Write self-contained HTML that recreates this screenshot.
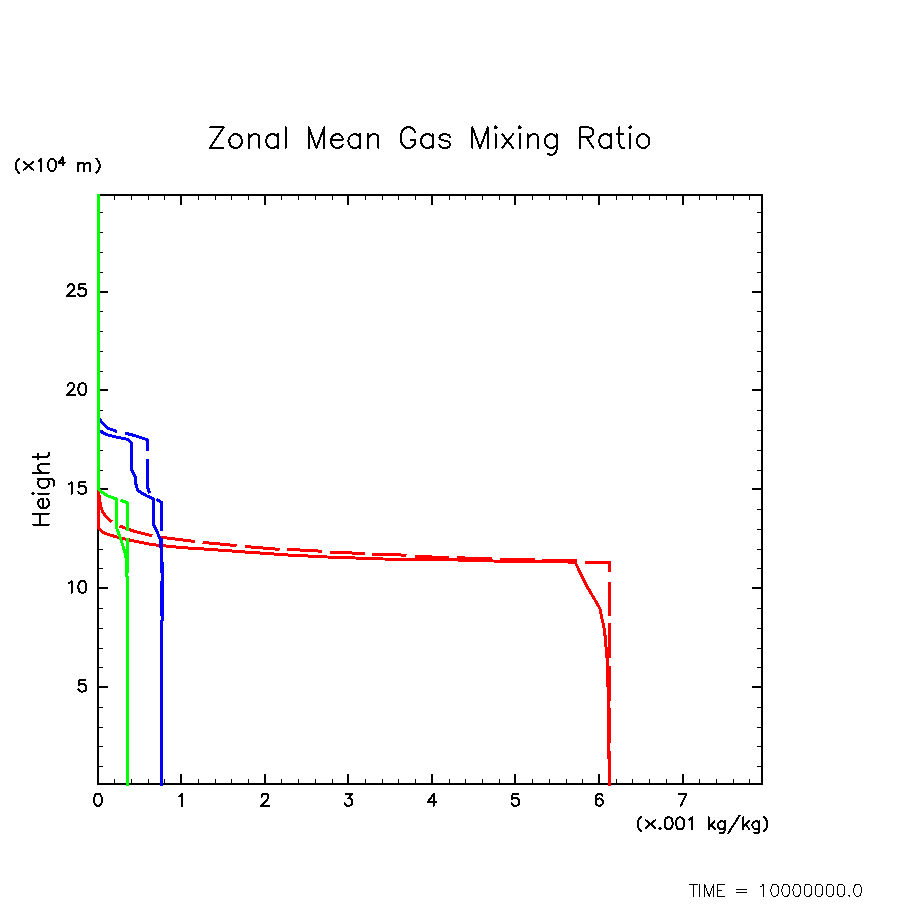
<!DOCTYPE html>
<html><head><meta charset="utf-8"><title>Zonal Mean Gas Mixing Ratio</title>
<style>html,body{margin:0;padding:0;background:#fff;font-family:"Liberation Sans",sans-serif;}svg{display:block;}</style>
</head><body>
<svg width="904" height="904" viewBox="0 0 904 904">
<rect width="904" height="904" fill="#fff"/>
<path d="M223.56 127.43 L210.00 147.90 M210.00 127.43 L223.56 127.43 M210.00 147.90 L223.56 147.90 M234.20 134.25 L232.27 135.22 L230.33 137.18 L229.36 140.10 L229.36 142.05 L230.33 144.97 L232.27 146.93 L234.20 147.90 L237.11 147.90 L239.04 146.93 L240.98 144.97 L241.95 142.05 L241.95 140.10 L240.98 137.18 L239.04 135.22 L237.11 134.25 L234.20 134.25 M248.72 134.25 L248.72 147.90 M248.72 138.15 L251.63 135.22 L253.56 134.25 L256.47 134.25 L258.40 135.22 L259.37 138.15 L259.37 147.90 M277.76 134.25 L277.76 147.90 M277.76 137.18 L275.83 135.22 L273.89 134.25 L270.99 134.25 L269.05 135.22 L267.12 137.18 L266.15 140.10 L266.15 142.05 L267.12 144.97 L269.05 146.93 L270.99 147.90 L273.89 147.90 L275.83 146.93 L277.76 144.97 M285.51 127.43 L285.51 147.90 M308.74 127.43 L308.74 147.90 M308.74 127.43 L316.48 147.90 M324.23 127.43 L316.48 147.90 M324.23 127.43 L324.23 147.90 M331.00 140.10 L342.62 140.10 L342.62 138.15 L341.65 136.20 L340.68 135.22 L338.75 134.25 L335.84 134.25 L333.91 135.22 L331.97 137.18 L331.00 140.10 L331.00 142.05 L331.97 144.97 L333.91 146.93 L335.84 147.90 L338.75 147.90 L340.68 146.93 L342.62 144.97 M360.04 134.25 L360.04 147.90 M360.04 137.18 L358.11 135.22 L356.17 134.25 L353.27 134.25 L351.33 135.22 L349.40 137.18 L348.43 140.10 L348.43 142.05 L349.40 144.97 L351.33 146.93 L353.27 147.90 L356.17 147.90 L358.11 146.93 L360.04 144.97 M367.79 134.25 L367.79 147.90 M367.79 138.15 L370.69 135.22 L372.63 134.25 L375.53 134.25 L377.47 135.22 L378.44 138.15 L378.44 147.90 M415.22 132.30 L414.25 130.35 L412.32 128.40 L410.38 127.43 L406.51 127.43 L404.57 128.40 L402.64 130.35 L401.67 132.30 L400.70 135.22 L400.70 140.10 L401.67 143.03 L402.64 144.97 L404.57 146.93 L406.51 147.90 L410.38 147.90 L412.32 146.93 L414.25 144.97 L415.22 143.03 L415.22 140.10 M410.38 140.10 L415.22 140.10 M432.64 134.25 L432.64 147.90 M432.64 137.18 L430.71 135.22 L428.77 134.25 L425.87 134.25 L423.93 135.22 L422.00 137.18 L421.03 140.10 L421.03 142.05 L422.00 144.97 L423.93 146.93 L425.87 147.90 L428.77 147.90 L430.71 146.93 L432.64 144.97 M450.07 137.18 L449.10 135.22 L446.20 134.25 L443.29 134.25 L440.39 135.22 L439.42 137.18 L440.39 139.12 L442.32 140.10 L447.16 141.08 L449.10 142.05 L450.07 144.00 L450.07 144.97 L449.10 146.93 L446.20 147.90 L443.29 147.90 L440.39 146.93 L439.42 144.97 M472.33 127.43 L472.33 147.90 M472.33 127.43 L480.08 147.90 M487.82 127.43 L480.08 147.90 M487.82 127.43 L487.82 147.90 M494.60 127.43 L495.56 128.40 L496.53 127.43 L495.56 126.45 L494.60 127.43 M495.56 134.25 L495.56 147.90 M502.34 134.25 L512.99 147.90 M512.99 134.25 L502.34 147.90 M518.80 127.43 L519.76 128.40 L520.73 127.43 L519.76 126.45 L518.80 127.43 M519.76 134.25 L519.76 147.90 M527.51 134.25 L527.51 147.90 M527.51 138.15 L530.41 135.22 L532.35 134.25 L535.25 134.25 L537.19 135.22 L538.16 138.15 L538.16 147.90 M556.55 134.25 L556.55 149.85 L555.58 152.78 L554.61 153.75 L552.68 154.72 L549.77 154.72 L547.84 153.75 M556.55 137.18 L554.61 135.22 L552.68 134.25 L549.77 134.25 L547.84 135.22 L545.90 137.18 L544.93 140.10 L544.93 142.05 L545.90 144.97 L547.84 146.93 L549.77 147.90 L552.68 147.90 L554.61 146.93 L556.55 144.97 M579.78 127.43 L579.78 147.90 M579.78 127.43 L588.49 127.43 L591.40 128.40 L592.36 129.38 L593.33 131.33 L593.33 133.28 L592.36 135.22 L591.40 136.20 L588.49 137.18 L579.78 137.18 M586.56 137.18 L593.33 147.90 M610.76 134.25 L610.76 147.90 M610.76 137.18 L608.82 135.22 L606.88 134.25 L603.98 134.25 L602.04 135.22 L600.11 137.18 L599.14 140.10 L599.14 142.05 L600.11 144.97 L602.04 146.93 L603.98 147.90 L606.88 147.90 L608.82 146.93 L610.76 144.97 M619.47 127.43 L619.47 144.00 L620.44 146.93 L622.37 147.90 L624.31 147.90 M616.56 134.25 L623.34 134.25 M629.15 127.43 L630.12 128.40 L631.08 127.43 L630.12 126.45 L629.15 127.43 M630.12 134.25 L630.12 147.90 M641.73 134.25 L639.80 135.22 L637.86 137.18 L636.89 140.10 L636.89 142.05 L637.86 144.97 L639.80 146.93 L641.73 147.90 L644.64 147.90 L646.57 146.93 L648.51 144.97 L649.48 142.05 L649.48 140.10 L648.51 137.18 L646.57 135.22 L644.64 134.25 L641.73 134.25" fill="none" stroke="#000" stroke-width="2" stroke-linecap="round" stroke-linejoin="round" shape-rendering="crispEdges"/>
<g shape-rendering="crispEdges" fill="#000" stroke="none">
<rect x="97" y="194" width="666" height="2"/><rect x="97" y="783" width="666" height="2"/><rect x="97" y="194" width="2" height="591"/><rect x="761" y="194" width="2" height="591"/>
<rect x="114" y="779" width="1" height="4"/><rect x="114" y="196" width="1" height="4"/>
<rect x="131" y="779" width="1" height="4"/><rect x="131" y="196" width="1" height="4"/>
<rect x="148" y="779" width="1" height="4"/><rect x="148" y="196" width="1" height="4"/>
<rect x="164" y="779" width="1" height="4"/><rect x="164" y="196" width="1" height="4"/>
<rect x="180" y="774" width="2" height="9"/><rect x="180" y="196" width="2" height="9"/>
<rect x="198" y="779" width="1" height="4"/><rect x="198" y="196" width="1" height="4"/>
<rect x="215" y="779" width="1" height="4"/><rect x="215" y="196" width="1" height="4"/>
<rect x="231" y="779" width="1" height="4"/><rect x="231" y="196" width="1" height="4"/>
<rect x="248" y="779" width="1" height="4"/><rect x="248" y="196" width="1" height="4"/>
<rect x="264" y="774" width="2" height="9"/><rect x="264" y="196" width="2" height="9"/>
<rect x="281" y="779" width="1" height="4"/><rect x="281" y="196" width="1" height="4"/>
<rect x="298" y="779" width="1" height="4"/><rect x="298" y="196" width="1" height="4"/>
<rect x="315" y="779" width="1" height="4"/><rect x="315" y="196" width="1" height="4"/>
<rect x="332" y="779" width="1" height="4"/><rect x="332" y="196" width="1" height="4"/>
<rect x="347" y="774" width="2" height="9"/><rect x="347" y="196" width="2" height="9"/>
<rect x="365" y="779" width="1" height="4"/><rect x="365" y="196" width="1" height="4"/>
<rect x="382" y="779" width="1" height="4"/><rect x="382" y="196" width="1" height="4"/>
<rect x="398" y="779" width="1" height="4"/><rect x="398" y="196" width="1" height="4"/>
<rect x="415" y="779" width="1" height="4"/><rect x="415" y="196" width="1" height="4"/>
<rect x="431" y="774" width="2" height="9"/><rect x="431" y="196" width="2" height="9"/>
<rect x="449" y="779" width="1" height="4"/><rect x="449" y="196" width="1" height="4"/>
<rect x="465" y="779" width="1" height="4"/><rect x="465" y="196" width="1" height="4"/>
<rect x="482" y="779" width="1" height="4"/><rect x="482" y="196" width="1" height="4"/>
<rect x="499" y="779" width="1" height="4"/><rect x="499" y="196" width="1" height="4"/>
<rect x="514" y="774" width="2" height="9"/><rect x="514" y="196" width="2" height="9"/>
<rect x="532" y="779" width="1" height="4"/><rect x="532" y="196" width="1" height="4"/>
<rect x="549" y="779" width="1" height="4"/><rect x="549" y="196" width="1" height="4"/>
<rect x="566" y="779" width="1" height="4"/><rect x="566" y="196" width="1" height="4"/>
<rect x="582" y="779" width="1" height="4"/><rect x="582" y="196" width="1" height="4"/>
<rect x="598" y="774" width="2" height="9"/><rect x="598" y="196" width="2" height="9"/>
<rect x="616" y="779" width="1" height="4"/><rect x="616" y="196" width="1" height="4"/>
<rect x="632" y="779" width="1" height="4"/><rect x="632" y="196" width="1" height="4"/>
<rect x="649" y="779" width="1" height="4"/><rect x="649" y="196" width="1" height="4"/>
<rect x="666" y="779" width="1" height="4"/><rect x="666" y="196" width="1" height="4"/>
<rect x="682" y="774" width="2" height="9"/><rect x="682" y="196" width="2" height="9"/>
<rect x="699" y="779" width="1" height="4"/><rect x="699" y="196" width="1" height="4"/>
<rect x="716" y="779" width="1" height="4"/><rect x="716" y="196" width="1" height="4"/>
<rect x="733" y="779" width="1" height="4"/><rect x="733" y="196" width="1" height="4"/>
<rect x="749" y="779" width="1" height="4"/><rect x="749" y="196" width="1" height="4"/>
<rect x="99" y="766" width="4" height="1"/>
<rect x="757" y="766" width="4" height="1"/>
<rect x="99" y="746" width="4" height="1"/>
<rect x="757" y="746" width="4" height="1"/>
<rect x="99" y="727" width="4" height="1"/>
<rect x="757" y="727" width="4" height="1"/>
<rect x="99" y="707" width="4" height="1"/>
<rect x="757" y="707" width="4" height="1"/>
<rect x="99" y="686" width="9" height="2"/><rect x="752" y="686" width="9" height="2"/>
<rect x="99" y="667" width="4" height="1"/>
<rect x="757" y="667" width="4" height="1"/>
<rect x="99" y="648" width="4" height="1"/>
<rect x="757" y="648" width="4" height="1"/>
<rect x="99" y="628" width="4" height="1"/>
<rect x="757" y="628" width="4" height="1"/>
<rect x="99" y="608" width="4" height="1"/>
<rect x="757" y="608" width="4" height="1"/>
<rect x="99" y="587" width="9" height="2"/><rect x="752" y="587" width="9" height="2"/>
<rect x="99" y="568" width="4" height="1"/>
<rect x="757" y="568" width="4" height="1"/>
<rect x="99" y="549" width="4" height="1"/>
<rect x="757" y="549" width="4" height="1"/>
<rect x="757" y="529" width="4" height="1"/>
<rect x="99" y="509" width="4" height="1"/>
<rect x="757" y="509" width="4" height="1"/>
<rect x="99" y="488" width="9" height="2"/><rect x="752" y="488" width="9" height="2"/>
<rect x="99" y="470" width="4" height="1"/>
<rect x="757" y="470" width="4" height="1"/>
<rect x="99" y="450" width="4" height="1"/>
<rect x="757" y="450" width="4" height="1"/>
<rect x="99" y="430" width="4" height="1"/>
<rect x="757" y="430" width="4" height="1"/>
<rect x="99" y="410" width="4" height="1"/>
<rect x="757" y="410" width="4" height="1"/>
<rect x="99" y="389" width="9" height="2"/><rect x="752" y="389" width="9" height="2"/>
<rect x="99" y="371" width="4" height="1"/>
<rect x="757" y="371" width="4" height="1"/>
<rect x="99" y="351" width="4" height="1"/>
<rect x="757" y="351" width="4" height="1"/>
<rect x="99" y="331" width="4" height="1"/>
<rect x="757" y="331" width="4" height="1"/>
<rect x="99" y="311" width="4" height="1"/>
<rect x="757" y="311" width="4" height="1"/>
<rect x="99" y="291" width="9" height="2"/><rect x="752" y="291" width="9" height="2"/>
<rect x="99" y="272" width="4" height="1"/>
<rect x="757" y="272" width="4" height="1"/>
<rect x="99" y="252" width="4" height="1"/>
<rect x="757" y="252" width="4" height="1"/>
<rect x="99" y="232" width="4" height="1"/>
<rect x="757" y="232" width="4" height="1"/>
<rect x="99" y="212" width="4" height="1"/>
<rect x="757" y="212" width="4" height="1"/>
</g>
<path d="M97.43 793.89 L95.73 794.46 L94.60 796.16 L94.03 799.00 L94.03 800.70 L94.60 803.53 L95.73 805.23 L97.43 805.80 L98.57 805.80 L100.27 805.23 L101.40 803.53 L101.97 800.70 L101.97 799.00 L101.40 796.16 L100.27 794.46 L98.57 793.89 L97.43 793.89" fill="none" stroke="#000" stroke-width="2" stroke-linecap="round" stroke-linejoin="round" shape-rendering="crispEdges"/>
<path d="M179.23 796.16 L180.37 795.59 L182.07 793.89 L182.07 805.80" fill="none" stroke="#000" stroke-width="2" stroke-linecap="round" stroke-linejoin="round" shape-rendering="crispEdges"/>
<path d="M261.60 796.73 L261.60 796.16 L262.16 795.03 L262.73 794.46 L263.87 793.89 L266.13 793.89 L267.27 794.46 L267.83 795.03 L268.40 796.16 L268.40 797.29 L267.83 798.43 L266.70 800.13 L261.03 805.80 L268.97 805.80" fill="none" stroke="#000" stroke-width="2" stroke-linecap="round" stroke-linejoin="round" shape-rendering="crispEdges"/>
<path d="M345.66 793.89 L351.90 793.89 L348.50 798.43 L350.20 798.43 L351.33 799.00 L351.90 799.56 L352.47 801.26 L352.47 802.40 L351.90 804.10 L350.77 805.23 L349.07 805.80 L347.37 805.80 L345.66 805.23 L345.10 804.67 L344.53 803.53" fill="none" stroke="#000" stroke-width="2" stroke-linecap="round" stroke-linejoin="round" shape-rendering="crispEdges"/>
<path d="M433.70 793.89 L428.03 801.83 L436.54 801.83 M433.70 793.89 L433.70 805.80" fill="none" stroke="#000" stroke-width="2" stroke-linecap="round" stroke-linejoin="round" shape-rendering="crispEdges"/>
<path d="M518.34 793.89 L512.66 793.89 L512.10 799.00 L512.66 798.43 L514.37 797.86 L516.07 797.86 L517.77 798.43 L518.90 799.56 L519.47 801.26 L519.47 802.40 L518.90 804.10 L517.77 805.23 L516.07 805.80 L514.37 805.80 L512.66 805.23 L512.10 804.67 L511.53 803.53" fill="none" stroke="#000" stroke-width="2" stroke-linecap="round" stroke-linejoin="round" shape-rendering="crispEdges"/>
<path d="M602.40 795.59 L601.84 794.46 L600.13 793.89 L599.00 793.89 L597.30 794.46 L596.17 796.16 L595.60 799.00 L595.60 801.83 L596.17 804.10 L597.30 805.23 L599.00 805.80 L599.57 805.80 L601.27 805.23 L602.40 804.10 L602.97 802.40 L602.97 801.83 L602.40 800.13 L601.27 799.00 L599.57 798.43 L599.00 798.43 L597.30 799.00 L596.17 800.13 L595.60 801.83" fill="none" stroke="#000" stroke-width="2" stroke-linecap="round" stroke-linejoin="round" shape-rendering="crispEdges"/>
<path d="M686.47 793.89 L680.80 805.80 M678.53 793.89 L686.47 793.89" fill="none" stroke="#000" stroke-width="2" stroke-linecap="round" stroke-linejoin="round" shape-rendering="crispEdges"/>
<path d="M85.16 679.74 L79.49 679.74 L78.93 684.85 L79.49 684.28 L81.20 683.71 L82.90 683.71 L84.60 684.28 L85.73 685.41 L86.30 687.11 L86.30 688.25 L85.73 689.95 L84.60 691.08 L82.90 691.65 L81.20 691.65 L79.49 691.08 L78.93 690.52 L78.36 689.38" fill="none" stroke="#000" stroke-width="2" stroke-linecap="round" stroke-linejoin="round" shape-rendering="crispEdges"/>
<path d="M68.72 583.16 L69.86 582.59 L71.56 580.89 L71.56 592.80 M81.76 580.89 L80.06 581.46 L78.93 583.16 L78.36 586.00 L78.36 587.70 L78.93 590.53 L80.06 592.23 L81.76 592.80 L82.90 592.80 L84.60 592.23 L85.73 590.53 L86.30 587.70 L86.30 586.00 L85.73 583.16 L84.60 581.46 L82.90 580.89 L81.76 580.89" fill="none" stroke="#000" stroke-width="2" stroke-linecap="round" stroke-linejoin="round" shape-rendering="crispEdges"/>
<path d="M68.72 484.31 L69.86 483.74 L71.56 482.04 L71.56 493.95 M85.16 482.04 L79.49 482.04 L78.93 487.15 L79.49 486.58 L81.20 486.01 L82.90 486.01 L84.60 486.58 L85.73 487.71 L86.30 489.41 L86.30 490.55 L85.73 492.25 L84.60 493.38 L82.90 493.95 L81.20 493.95 L79.49 493.38 L78.93 492.82 L78.36 491.68" fill="none" stroke="#000" stroke-width="2" stroke-linecap="round" stroke-linejoin="round" shape-rendering="crispEdges"/>
<path d="M67.59 386.03 L67.59 385.46 L68.15 384.33 L68.72 383.76 L69.86 383.19 L72.12 383.19 L73.26 383.76 L73.82 384.33 L74.39 385.46 L74.39 386.60 L73.82 387.73 L72.69 389.43 L67.02 395.10 L74.96 395.10 M81.76 383.19 L80.06 383.76 L78.93 385.46 L78.36 388.30 L78.36 390.00 L78.93 392.83 L80.06 394.53 L81.76 395.10 L82.90 395.10 L84.60 394.53 L85.73 392.83 L86.30 390.00 L86.30 388.30 L85.73 385.46 L84.60 383.76 L82.90 383.19 L81.76 383.19" fill="none" stroke="#000" stroke-width="2" stroke-linecap="round" stroke-linejoin="round" shape-rendering="crispEdges"/>
<path d="M67.59 287.18 L67.59 286.61 L68.15 285.48 L68.72 284.91 L69.86 284.34 L72.12 284.34 L73.26 284.91 L73.82 285.48 L74.39 286.61 L74.39 287.75 L73.82 288.88 L72.69 290.58 L67.02 296.25 L74.96 296.25 M85.16 284.34 L79.49 284.34 L78.93 289.45 L79.49 288.88 L81.20 288.31 L82.90 288.31 L84.60 288.88 L85.73 290.01 L86.30 291.71 L86.30 292.85 L85.73 294.55 L84.60 295.68 L82.90 296.25 L81.20 296.25 L79.49 295.68 L78.93 295.12 L78.36 293.98" fill="none" stroke="#000" stroke-width="2" stroke-linecap="round" stroke-linejoin="round" shape-rendering="crispEdges"/>
<path d="M19.14 158.71 L18.18 159.60 L17.21 160.92 L16.25 162.70 L15.77 164.91 L15.77 166.68 L16.25 168.90 L17.21 170.67 L18.18 172.00 L19.14 172.88 M23.71 161.83 L33.34 169.77 M33.34 161.83 L23.71 169.77 M38.45 161.26 L39.58 160.69 L41.28 158.99 L41.28 170.90 M51.49 158.99 L49.79 159.56 L48.65 161.26 L48.09 164.10 L48.09 165.80 L48.65 168.63 L49.79 170.33 L51.49 170.90 L52.62 170.90 L54.32 170.33 L55.46 168.63 L56.02 165.80 L56.02 164.10 L55.46 161.26 L54.32 159.56 L52.62 158.99 L51.49 158.99" fill="none" stroke="#000" stroke-width="2" stroke-linecap="round" stroke-linejoin="round" shape-rendering="crispEdges"/>
<path d="M62.86 157.32 L58.66 162.57 L64.96 162.57 M62.86 157.32 L62.86 165.20" fill="none" stroke="#000" stroke-width="2" stroke-linecap="round" stroke-linejoin="round" shape-rendering="crispEdges"/>
<path d="M77.77 162.96 L77.77 170.90 M77.77 165.23 L79.47 163.53 L80.60 162.96 L82.30 162.96 L83.44 163.53 L84.00 165.23 L84.00 170.90 M84.00 165.23 L85.71 163.53 L86.84 162.96 L88.54 162.96 L89.67 163.53 L90.24 165.23 L90.24 170.90" fill="none" stroke="#000" stroke-width="2" stroke-linecap="round" stroke-linejoin="round" shape-rendering="crispEdges"/>
<path d="M96.30 158.71 L97.26 159.60 L98.22 160.92 L99.19 162.70 L99.67 164.91 L99.67 166.68 L99.19 168.90 L98.22 170.67 L97.26 172.00 L96.30 172.88" fill="none" stroke="#000" stroke-width="2" stroke-linecap="round" stroke-linejoin="round" shape-rendering="crispEdges"/>
<path d="M641.01 817.01 L640.04 817.90 L639.06 819.22 L638.08 821.00 L637.60 823.21 L637.60 824.98 L638.08 827.20 L639.06 828.97 L640.04 830.30 L641.01 831.18 M645.63 820.13 L655.39 828.07 M655.39 820.13 L645.63 828.07 M659.98 828.07 L659.41 828.63 L659.98 829.20 L660.56 828.63 L659.98 828.07 M668.02 817.29 L666.30 817.86 L665.15 819.56 L664.57 822.40 L664.57 824.10 L665.15 826.93 L666.30 828.63 L668.02 829.20 L669.17 829.20 L670.89 828.63 L672.04 826.93 L672.61 824.10 L672.61 822.40 L672.04 819.56 L670.89 817.86 L669.17 817.29 L668.02 817.29 M679.50 817.29 L677.78 817.86 L676.63 819.56 L676.05 822.40 L676.05 824.10 L676.63 826.93 L677.78 828.63 L679.50 829.20 L680.65 829.20 L682.37 828.63 L683.52 826.93 L684.09 824.10 L684.09 822.40 L683.52 819.56 L682.37 817.86 L680.65 817.29 L679.50 817.29 M689.26 819.56 L690.40 818.99 L692.13 817.29 L692.13 829.20 M708.77 817.29 L708.77 829.20 M714.51 821.26 L708.77 826.93 M711.07 824.66 L715.09 829.20 M724.84 821.26 L724.84 830.33 L724.27 832.04 L723.70 832.60 L722.55 833.17 L720.83 833.17 L719.68 832.60 M724.84 822.96 L723.70 821.83 L722.55 821.26 L720.83 821.26 L719.68 821.83 L718.53 822.96 L717.96 824.66 L717.96 825.80 L718.53 827.50 L719.68 828.63 L720.83 829.20 L722.55 829.20 L723.70 828.63 L724.84 827.50 M739.48 815.59 L728.29 833.17 M743.21 817.29 L743.21 829.20 M748.95 821.26 L743.21 826.93 M745.51 824.66 L749.53 829.20 M759.28 821.26 L759.28 830.33 L758.71 832.04 L758.14 832.60 L756.99 833.17 L755.27 833.17 L754.12 832.60 M759.28 822.96 L758.14 821.83 L756.99 821.26 L755.27 821.26 L754.12 821.83 L752.97 822.96 L752.40 824.66 L752.40 825.80 L752.97 827.50 L754.12 828.63 L755.27 829.20 L756.99 829.20 L758.14 828.63 L759.28 827.50 M763.90 817.01 L764.88 817.90 L765.86 819.22 L766.83 821.00 L767.32 823.21 L767.32 824.98 L766.83 827.20 L765.86 828.97 L764.88 830.30 L763.90 831.18" fill="none" stroke="#000" stroke-width="2" stroke-linecap="round" stroke-linejoin="round" shape-rendering="crispEdges"/>
<path d="M32.72 524.50 L49.00 524.50 M32.72 513.65 L49.00 513.65 M40.48 524.50 L40.48 513.65 M42.80 508.23 L42.80 498.93 L41.25 498.93 L39.70 499.70 L38.92 500.48 L38.15 502.03 L38.15 504.35 L38.92 505.90 L40.48 507.45 L42.80 508.23 L44.35 508.23 L46.67 507.45 L48.23 505.90 L49.00 504.35 L49.00 502.03 L48.23 500.48 L46.67 498.93 M32.72 494.28 L33.50 493.50 L32.72 492.73 L31.95 493.50 L32.72 494.28 M38.15 493.50 L49.00 493.50 M38.15 478.78 L50.55 478.78 L52.88 479.55 L53.65 480.33 L54.42 481.88 L54.42 484.20 L53.65 485.75 M40.48 478.78 L38.92 480.33 L38.15 481.88 L38.15 484.20 L38.92 485.75 L40.48 487.30 L42.80 488.08 L44.35 488.08 L46.67 487.30 L48.23 485.75 L49.00 484.20 L49.00 481.88 L48.23 480.33 L46.67 478.78 M32.72 472.58 L49.00 472.58 M41.25 472.58 L38.92 470.25 L38.15 468.70 L38.15 466.38 L38.92 464.83 L41.25 464.05 L49.00 464.05 M32.72 457.08 L45.90 457.08 L48.23 456.30 L49.00 454.75 L49.00 453.20 M38.15 459.40 L38.15 453.98" fill="none" stroke="#000" stroke-width="2" stroke-linecap="round" stroke-linejoin="round" shape-rendering="crispEdges"/>
<path d="M693.62 884.32 L693.62 896.40 M689.75 884.32 L697.48 884.32" fill="none" stroke="#000" stroke-width="1.0" stroke-linecap="round" stroke-linejoin="round" shape-rendering="crispEdges"/>
<path d="M699.24 884.32 L699.24 896.40" fill="none" stroke="#000" stroke-width="1.0" stroke-linecap="round" stroke-linejoin="round" shape-rendering="crispEdges"/>
<path d="M704.66 884.32 L704.66 896.40 M704.66 884.32 L709.07 896.40 M713.49 884.32 L709.07 896.40 M713.49 884.32 L713.49 896.40" fill="none" stroke="#000" stroke-width="1.0" stroke-linecap="round" stroke-linejoin="round" shape-rendering="crispEdges"/>
<path d="M717.90 884.32 L717.90 896.40 M717.90 884.32 L724.40 884.32 M717.90 890.07 L721.90 890.07 M717.90 896.40 L724.40 896.40" fill="none" stroke="#000" stroke-width="1.0" stroke-linecap="round" stroke-linejoin="round" shape-rendering="crispEdges"/>
<path d="M736.42 889.50 L746.36 889.50 M736.42 892.95 L746.36 892.95" fill="none" stroke="#000" stroke-width="1.0" stroke-linecap="round" stroke-linejoin="round" shape-rendering="crispEdges"/>
<path d="M760.61 886.62 L761.72 886.05 L763.37 884.32 L763.37 896.40" fill="none" stroke="#000" stroke-width="1.0" stroke-linecap="round" stroke-linejoin="round" shape-rendering="crispEdges"/>
<path d="M774.21 884.32 L772.55 884.90 L771.45 886.62 L770.90 889.50 L770.90 891.23 L771.45 894.10 L772.55 895.82 L774.21 896.40 L775.31 896.40 L776.97 895.82 L778.07 894.10 L778.62 891.23 L778.62 889.50 L778.07 886.62 L776.97 884.90 L775.31 884.32 L774.21 884.32 M785.25 884.32 L783.59 884.90 L782.49 886.62 L781.94 889.50 L781.94 891.23 L782.49 894.10 L783.59 895.82 L785.25 896.40 L786.35 896.40 L788.01 895.82 L789.11 894.10 L789.66 891.23 L789.66 889.50 L789.11 886.62 L788.01 884.90 L786.35 884.32 L785.25 884.32 M796.29 884.32 L794.63 884.90 L793.53 886.62 L792.98 889.50 L792.98 891.23 L793.53 894.10 L794.63 895.82 L796.29 896.40 L797.39 896.40 L799.05 895.82 L800.15 894.10 L800.70 891.23 L800.70 889.50 L800.15 886.62 L799.05 884.90 L797.39 884.32 L796.29 884.32 M807.33 884.32 L805.67 884.90 L804.57 886.62 L804.02 889.50 L804.02 891.23 L804.57 894.10 L805.67 895.82 L807.33 896.40 L808.43 896.40 L810.09 895.82 L811.19 894.10 L811.74 891.23 L811.74 889.50 L811.19 886.62 L810.09 884.90 L808.43 884.32 L807.33 884.32 M818.37 884.32 L816.71 884.90 L815.61 886.62 L815.06 889.50 L815.06 891.23 L815.61 894.10 L816.71 895.82 L818.37 896.40 L819.47 896.40 L821.13 895.82 L822.23 894.10 L822.78 891.23 L822.78 889.50 L822.23 886.62 L821.13 884.90 L819.47 884.32 L818.37 884.32 M829.41 884.32 L827.75 884.90 L826.65 886.62 L826.10 889.50 L826.10 891.23 L826.65 894.10 L827.75 895.82 L829.41 896.40 L830.51 896.40 L832.17 895.82 L833.27 894.10 L833.82 891.23 L833.82 889.50 L833.27 886.62 L832.17 884.90 L830.51 884.32 L829.41 884.32 M840.45 884.32 L838.79 884.90 L837.69 886.62 L837.14 889.50 L837.14 891.23 L837.69 894.10 L838.79 895.82 L840.45 896.40 L841.55 896.40 L843.21 895.82 L844.31 894.10 L844.86 891.23 L844.86 889.50 L844.31 886.62 L843.21 884.90 L841.55 884.32 L840.45 884.32 M849.28 895.25 L848.73 895.82 L849.28 896.40 L849.83 895.82 L849.28 895.25 M857.01 884.32 L855.35 884.90 L854.25 886.62 L853.70 889.50 L853.70 891.23 L854.25 894.10 L855.35 895.82 L857.01 896.40 L858.11 896.40 L859.77 895.82 L860.87 894.10 L861.42 891.23 L861.42 889.50 L860.87 886.62 L859.77 884.90 L858.11 884.32 L857.01 884.32" fill="none" stroke="#000" stroke-width="1.0" stroke-linecap="round" stroke-linejoin="round" shape-rendering="crispEdges"/>
<path d="M98.5 489.7 L98.5 527.5 L100.2 529.6 L102.0 531.4 L104.6 533.1 L109.9 535.0 L116.5 536.8 L123.2 538.6 L134.2 541.0 L143.1 542.8 L152.0 544.6 L160.4 545.4 L170.0 546.4 L183.0 547.7 L210.0 549.4 L242.5 551.8 L287.6 555.0 L327.4 557.0 L383.0 559.0 L440.0 559.5 L493.0 561.0 L575.2 562.1 L576.5 565.0 L585.9 584.6 L595.0 600.0 L600.0 608.8 L601.7 617.7 L603.8 626.5 L605.0 635.4 L605.7 643.4 L606.6 653.0 L607.4 662.0 L607.5 675.0 L608.5 698.0 L608.5 752.0 L609.5 766.0 L609.5 786.0" fill="none" stroke="#ff0000" stroke-width="3" stroke-linejoin="round" shape-rendering="crispEdges"/>
<path d="M98.5 490.0 L99.5 500.0 L100.8 506.5 L102.6 511.8 L106.0 516.5 L109.5 519.8 L111.8 521.8" fill="none" stroke="#ff0000" stroke-width="3" stroke-linejoin="round" shape-rendering="crispEdges"/>
<path d="M119.6 526.0 L134.2 531.3 L152.4 535.8" fill="none" stroke="#ff0000" stroke-width="3" stroke-linejoin="round" shape-rendering="crispEdges"/>
<path d="M160.8 537.1 L170.0 538.4 L194.9 541.5" fill="none" stroke="#ff0000" stroke-width="3" stroke-linejoin="round" shape-rendering="crispEdges"/>
<path d="M202.6 542.4 L236.6 545.6" fill="none" stroke="#ff0000" stroke-width="3" stroke-linejoin="round" shape-rendering="crispEdges"/>
<path d="M245.0 546.5 L279.6 549.4" fill="none" stroke="#ff0000" stroke-width="3" stroke-linejoin="round" shape-rendering="crispEdges"/>
<path d="M287.0 549.3 L321.6 551.2" fill="none" stroke="#ff0000" stroke-width="3" stroke-linejoin="round" shape-rendering="crispEdges"/>
<path d="M330.0 552.3 L364.6 553.4" fill="none" stroke="#ff0000" stroke-width="3" stroke-linejoin="round" shape-rendering="crispEdges"/>
<path d="M372.0 554.1 L406.5 555.2" fill="none" stroke="#ff0000" stroke-width="3" stroke-linejoin="round" shape-rendering="crispEdges"/>
<path d="M415.0 556.5 L449.0 557.5" fill="none" stroke="#ff0000" stroke-width="3" stroke-linejoin="round" shape-rendering="crispEdges"/>
<path d="M457.0 557.8 L491.8 558.7" fill="none" stroke="#ff0000" stroke-width="3" stroke-linejoin="round" shape-rendering="crispEdges"/>
<path d="M499.6 559.2 L535.0 559.9" fill="none" stroke="#ff0000" stroke-width="3" stroke-linejoin="round" shape-rendering="crispEdges"/>
<path d="M541.6 560.2 L576.5 561.0" fill="none" stroke="#ff0000" stroke-width="3" stroke-linejoin="round" shape-rendering="crispEdges"/>
<path d="M585.0 562.4 L609.5 562.4 L609.5 571.7" fill="none" stroke="#ff0000" stroke-width="3" stroke-linejoin="round" shape-rendering="crispEdges"/>
<path d="M609.5 581.6 L609.5 615.9" fill="none" stroke="#ff0000" stroke-width="3" stroke-linejoin="round" shape-rendering="crispEdges"/>
<path d="M609.5 623.0 L609.5 658.0" fill="none" stroke="#ff0000" stroke-width="3" stroke-linejoin="round" shape-rendering="crispEdges"/>
<path d="M609.5 666.0 L609.5 701.2" fill="none" stroke="#ff0000" stroke-width="3" stroke-linejoin="round" shape-rendering="crispEdges"/>
<path d="M609.5 707.8 L609.5 743.0" fill="none" stroke="#ff0000" stroke-width="3" stroke-linejoin="round" shape-rendering="crispEdges"/>
<path d="M609.5 751.0 L609.5 786.0" fill="none" stroke="#ff0000" stroke-width="3" stroke-linejoin="round" shape-rendering="crispEdges"/>
<path d="M98.5 430.5 L100.5 431.7 L108.0 435.0 L117.0 437.3 L126.0 439.0 L128.5 439.8 L131.4 442.5 L131.4 469.0 L135.2 477.0 L135.8 483.7 L137.8 490.6 L146.6 495.9 L153.7 498.8 L153.7 525.1 L157.3 532.2 L160.0 538.6 L161.2 550.0 L161.6 560.0 L162.5 564.0 L162.5 620.0 L161.5 621.0 L161.5 786.0" fill="none" stroke="#0000ff" stroke-width="3" stroke-linejoin="round" shape-rendering="crispEdges"/>
<path d="M98.5 417.5 L100.5 420.4 L103.5 424.2 L108.0 428.2 L117.0 431.5" fill="none" stroke="#0000ff" stroke-width="3" stroke-linejoin="round" shape-rendering="crispEdges"/>
<path d="M125.2 433.2 L135.0 435.6 L147.4 439.8 L147.4 450.5" fill="none" stroke="#0000ff" stroke-width="3" stroke-linejoin="round" shape-rendering="crispEdges"/>
<path d="M147.4 459.4 L147.4 487.0 L149.7 493.3" fill="none" stroke="#0000ff" stroke-width="3" stroke-linejoin="round" shape-rendering="crispEdges"/>
<path d="M156.4 499.0 L161.5 502.4 L161.5 530.6" fill="none" stroke="#0000ff" stroke-width="3" stroke-linejoin="round" shape-rendering="crispEdges"/>
<path d="M161.5 538.0 L161.5 572.7" fill="none" stroke="#0000ff" stroke-width="3" stroke-linejoin="round" shape-rendering="crispEdges"/>
<path d="M161.5 581.0 L161.5 615.6" fill="none" stroke="#0000ff" stroke-width="3" stroke-linejoin="round" shape-rendering="crispEdges"/>
<path d="M98.5 193.7 L98.5 488.5 L101.5 492.0 L107.7 495.9 L116.5 499.0 L116.5 527.8 L120.1 537.0 L125.0 552.5 L126.5 560.0 L126.5 576.0 L127.5 577.5 L127.5 786.0" fill="none" stroke="#00ff00" stroke-width="3" stroke-linejoin="round" shape-rendering="crispEdges"/>
<path d="M120.5 500.2 L127.5 502.8 L127.5 530.6" fill="none" stroke="#00ff00" stroke-width="3" stroke-linejoin="round" shape-rendering="crispEdges"/>
<path d="M127.5 538.0 L127.5 572.7" fill="none" stroke="#00ff00" stroke-width="3" stroke-linejoin="round" shape-rendering="crispEdges"/>
</svg>
</body></html>
